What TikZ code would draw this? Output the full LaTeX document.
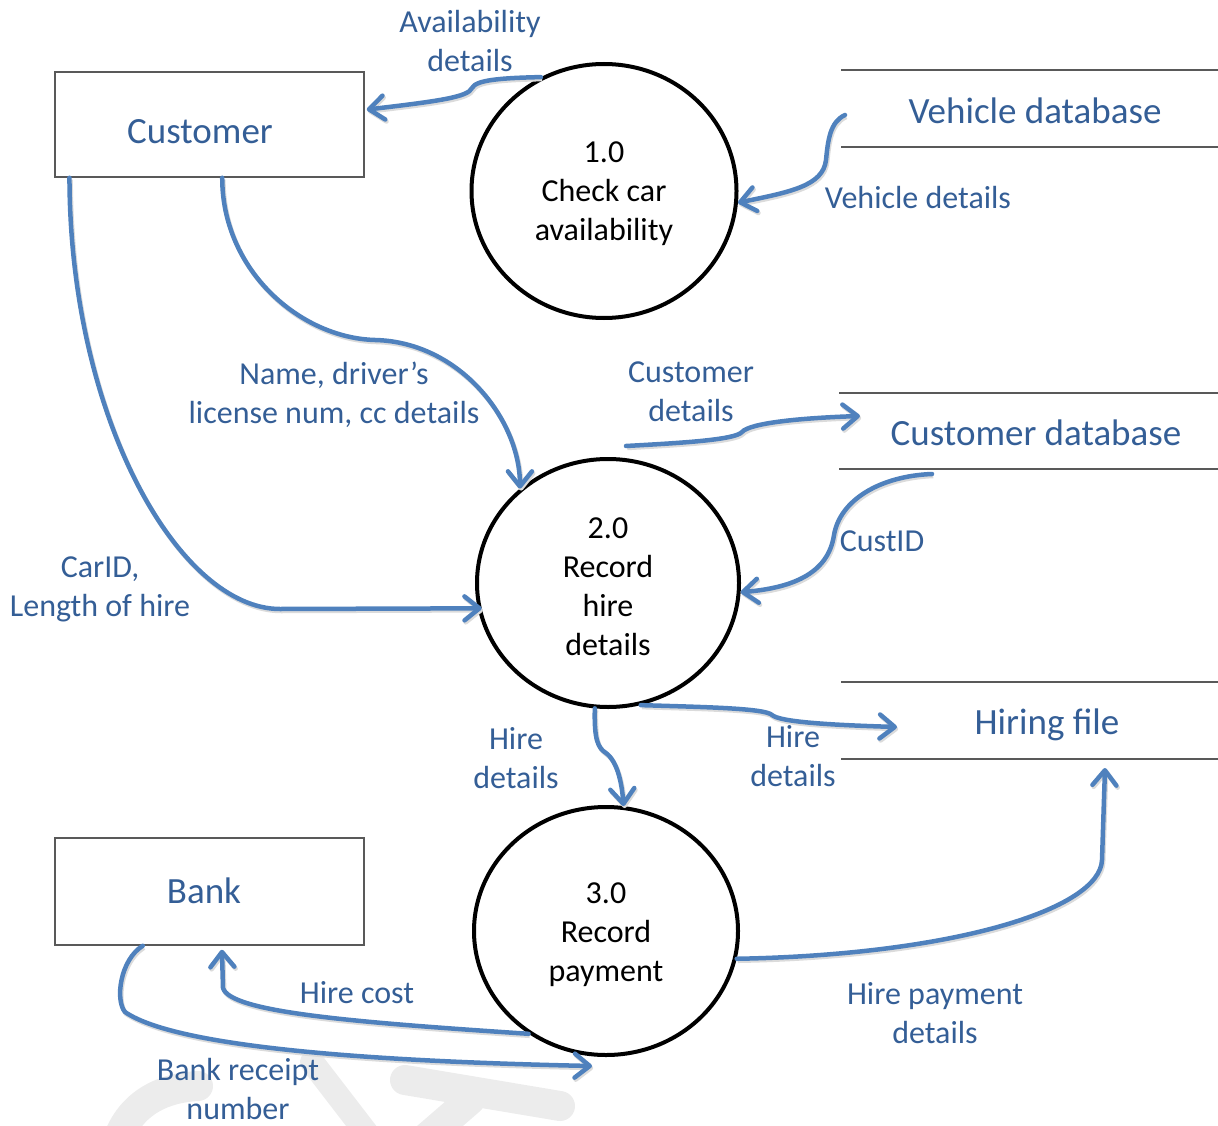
\documentclass[tikz,border=0pt]{standalone}
\usepackage{fontspec}
\setmainfont{Carlito}
\usetikzlibrary{arrows.meta,shapes.geometric,calc}
\definecolor{flowblue}{RGB}{79,129,189}
\definecolor{txtblue}{RGB}{52,94,150}
\definecolor{wmgray}{RGB}{236,236,236}
\begin{document}
\begin{tikzpicture}[x=1pt,y=-1pt,
  flow/.style={draw=flowblue, line width=4.5pt, line cap=round, line join=round,
    preaction={draw=black!14, line width=4.5pt, transform canvas={shift={(1.2pt,-2pt)}}}},
  arr/.style={flow, -{Straight Barb[length=15pt,width=24pt,round]}},
  lbl/.style={text=txtblue, font=\fontsize{32}{39}\selectfont, align=center, inner sep=0pt},
  big/.style={text=txtblue, font=\fontsize{37}{44}\selectfont, inner sep=0pt, text depth=0pt},
  proc/.style={draw=black, line width=4pt, ellipse, inner sep=0pt, align=center,
    font=\fontsize{32}{39}\selectfont},
  ent/.style={draw=black!65, line width=1.5pt, rectangle, minimum width=309pt,
    minimum height=105pt, inner sep=0pt},
  store/.style={draw=black!65, line width=2pt},
  wm/.style={draw=wmgray, line width=30pt, line cap=round}
]
\useasboundingbox (0,0) rectangle (1218,1126);

% watermark fragments
\draw[wm] (116,1145) .. controls (128,1105) and (160,1088) .. (198,1086);
\draw[wm, line width=24pt] (312,1062) -- (372,1140);
\draw[wm] (405,1080) -- (560,1106);
\draw[wm] (470,1100) -- (418,1145);

% external entities
\node[ent] (cust) at (209.5,124.5) {};
\node[big] (custt) at (200,131) {Customer};
\node[ent, minimum height=107pt] (bank) at (209.5,891.5) {};
\node[big] (bankt) at (204,891) {Bank};

% data stores
\coordinate (v1) at (841,70);  \coordinate (v2) at (1218,70);
\coordinate (v3) at (841,147); \coordinate (v4) at (1218,147);
\draw[store] (v1) -- (v2); \draw[store] (v3) -- (v4);
\node[big] (vdb) at (1035,111) {Vehicle database};

\coordinate (c1) at (839,393); \coordinate (c2) at (1218,393);
\coordinate (c3) at (839,469); \coordinate (c4) at (1218,469);
\draw[store] (c1) -- (c2); \draw[store] (c3) -- (c4);
\node[big] (cdb) at (1036,433) {Customer database};

\coordinate (h1) at (841,682); \coordinate (h2) at (1218,682);
\coordinate (h3) at (841,759); \coordinate (h4) at (1218,759);
\draw[store] (h1) -- (h2); \draw[store] (h3) -- (h4);
\node[big] (hf) at (1047,722) {Hiring file};

% processes
\node[proc, minimum width=265pt, minimum height=254pt] (p1) at (604,191) {\rule{0pt}{26pt}1.0\\Check car\\availability};
\node[proc, minimum width=262pt, minimum height=248pt] (p2) at (608,583) {\rule{0pt}{28pt}2.0\\Record\\hire\\details};
\node[proc, minimum width=264pt, minimum height=248pt] (p3) at (606,931) {\rule{0pt}{28pt}3.0\\Record\\payment};

% free ends
\coordinate (vdbout) at (845,115);
\coordinate (cdbin) at (860,416);
\coordinate (cdbout) at (932,474);
\coordinate (p2top) at (626,446);
\coordinate (hfin) at (897,727);
\coordinate (hfup) at (1105,768);
\coordinate (p3bot) at (592,1066);

% flows
\draw[arr] (p1.119) .. controls (500,78) and (476,80) .. (472,88)
  .. controls (468,97) and (440,101) .. ($(cust.north east)!0.36!(cust.south east)+(2,0)$);
\draw[arr] (vdbout) .. controls (830,122) and (828,140) .. (826,160)
  .. controls (823,186) and (790,192) .. (p1.-5);
\draw[arr] ($(cust.south west)!0.541!(cust.south east)$) .. controls (222,270) and (300,338) .. (375,340)
  .. controls (460,342) and (520,420) .. (p2.133);
\draw[arr] ($(cust.south west)!0.049!(cust.south east)$) .. controls (70,420) and (180,609) .. (280,609)
  -- ([xshift=4pt]p2.191);
\draw[arr] (p2top) .. controls (680,443) and (735,440) .. (742,432)
  .. controls (750,423) and (800,418) .. (cdbin);
\draw[arr] (cdbout) .. controls (880,476) and (840,500) .. (834,535)
  .. controls (828,575) and (790,588) .. (p2.-4);
\draw[arr] (p2.-96) .. controls (594,740) and (598,748) .. (606,753)
  .. controls (618,762) and (622,785) .. (p3.82);
\draw[arr] (p2.-75) .. controls (700,707) and (765,708) .. (772,715)
  .. controls (780,722) and (830,725) .. (hfin);
\draw[arr] (p3.-12) .. controls (950,955) and (1100,910) .. (1102,860) -- (hfup);
\draw[arr] (p3.233) .. controls (350,1022) and (230,1012) .. (223,988)
  -- ([yshift=-4pt]$(bank.south west)!0.54!(bank.south east)$);
\draw[arr] ($(bank.south west)!0.285!(bank.south east)$) .. controls (120,960) and (115,1000) .. (125,1012)
  .. controls (180,1050) and (400,1062) .. (p3bot);

% flow labels
\node[lbl] (l1) at (470,41) {Availability\\details};
\node[lbl] (l2) at (918,198) {Vehicle details};
\node[lbl] (l3) at (334,394.5) {Name, driver’s\\license num, cc details};
\node[lbl] (l4) at (691,391.5) {Customer\\details};
\node[lbl] (l5) at (882,541) {CustID};
\node[lbl] (l6) at (100,589.5) {CarID,\\Length of hire};
\node[lbl] (l7) at (516,758.5) {Hire\\details};
\node[lbl] (l8) at (793,756.5) {Hire\\details};
\node[lbl] (l9) at (357,993) {Hire cost};
\node[lbl] (l10) at (935,1013.5) {Hire payment\\details};
\node[lbl] (l11) at (238,1089) {Bank receipt\\number};
\end{tikzpicture}
\end{document}
